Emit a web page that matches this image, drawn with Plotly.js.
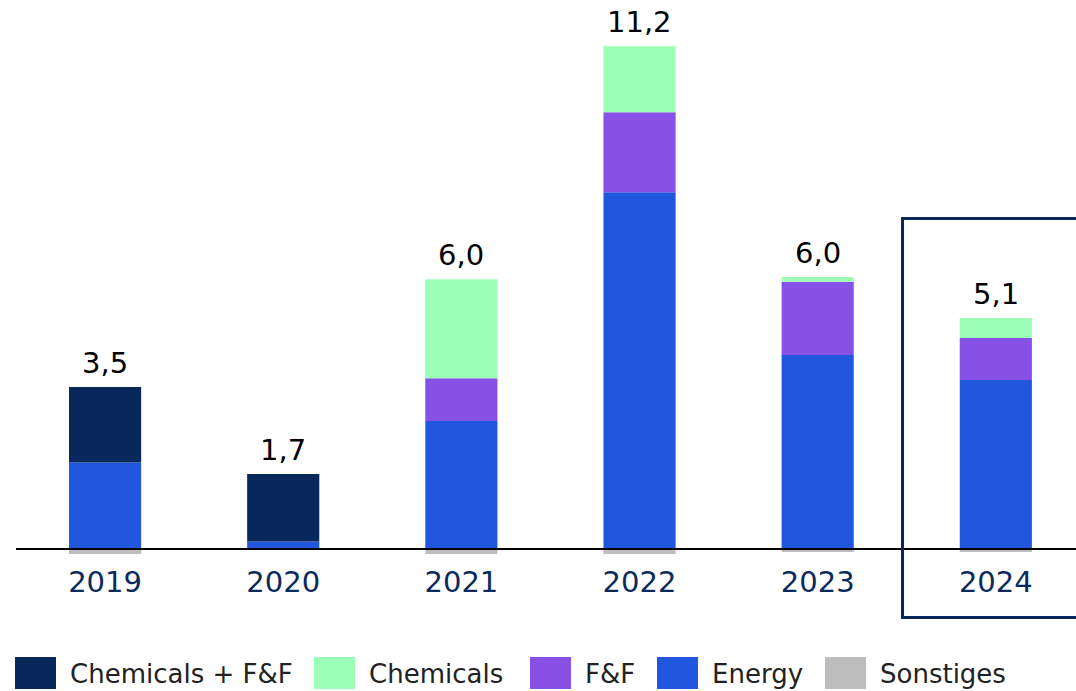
<!DOCTYPE html>
<html>
<head>
<meta charset="utf-8">
<script src="https://cdn.plot.ly/plotly-3.0.1.min.js"></script>
<style>html,body{margin:0;padding:0;background:#fff;}#chart{width:1076px;height:691px;}</style>
</head>
<body>
<div id="chart"></div>
<script>
const years = ['2019', '2020', '2021', '2022', '2023', '2024'];
const chemFF = [1.69, 1.51, 0, 0, 0, 0];
const chemicals = [0, 0, 2.22, 1.48, 0.11, 0.45];
const ff = [0, 0, 0.96, 1.79, 1.64, 0.94];
const energy = [1.94, 0.17, 2.87, 8.00, 4.35, 3.79];
const sonstiges = [-0.11, 0, -0.11, -0.11, -0.07, -0.07];
const totalLabels = ['3,5', '1,7', '6,0', '11,2', '6,0', '5,1'];

const seriesNames = ['Chemicals + F&F', 'Chemicals', 'F&F', 'Energy', 'Sonstiges'];
const seriesColors = ['#08275a', '#9bffb8', '#8751e6', '#2157de', '#bdbdbd'];

const FONT = 'DejaVu Sans, sans-serif';

function bar(name, y, color) {
  return {
    type: 'bar', name: name, x: years, y: y, width: 0.405,
    marker: {color: color, line: {width: 0}},
    showlegend: false, hoverinfo: 'skip'
  };
}
// stacking order: Energy at bottom, then F&F, Chemicals, Chemicals + F&F
const traces = [
  bar('Energy', energy, seriesColors[3]),
  bar('F&F', ff, seriesColors[2]),
  bar('Chemicals', chemicals, seriesColors[1]),
  bar('Chemicals + F&F', chemFF, seriesColors[0]),
  bar('Sonstiges', sonstiges, seriesColors[4])
];

const tops = years.map((yr, i) => energy[i] + ff[i] + chemicals[i] + chemFF[i]);
const annotations = years.map((yr, i) => ({
  x: i, y: tops[i], xref: 'x', yref: 'y', text: totalLabels[i], showarrow: false,
  xanchor: 'center', yanchor: 'bottom', yshift: 5,
  font: {family: FONT, size: 29, color: '#000'}
}));

// custom legend with large swatches
const legendX = [15, 314, 530, 657, 825];
const PL = 16, PW = 1060;
const PT = 10, PH = 550;
const shapes = [];
function px2paperX(px) { return (px - PL) / PW; }
function px2paperY(py) { return (PT + PH - py) / PH; }
seriesNames.forEach((n, i) => {
  shapes.push({
    type: 'rect', xref: 'paper', yref: 'paper',
    x0: px2paperX(legendX[i]), x1: px2paperX(legendX[i] + 41),
    y0: px2paperY(689), y1: px2paperY(657),
    fillcolor: seriesColors[i], line: {width: 0}
  });
  annotations.push({
    xref: 'paper', yref: 'paper', x: px2paperX(legendX[i] + 53), y: px2paperY(674),
    xanchor: 'left', yanchor: 'middle', text: n, showarrow: false,
    font: {family: FONT, size: 26, color: '#222'}
  });
});

// zero line on top of bars
shapes.push({
  type: 'line', xref: 'paper', yref: 'y', x0: 0, x1: 1, y0: 0, y1: 0,
  line: {color: '#000', width: 2}, layer: 'above'
});
// highlight box around 2024
shapes.push({
  type: 'rect', xref: 'paper', yref: 'paper',
  x0: px2paperX(902.5), x1: px2paperX(1090),
  y0: px2paperY(617.5), y1: px2paperY(218.5),
  line: {color: '#08275a', width: 3}, fillcolor: 'rgba(0,0,0,0)', layer: 'above'
});

const layout = {
  width: 1076, height: 691,
  margin: {l: PL, r: 0, t: PT, b: 691 - PT - PH},
  paper_bgcolor: '#fff', plot_bgcolor: '#fff',
  barmode: 'relative', bargap: 0.6,
  showlegend: false,
  xaxis: {
    type: 'category', range: [-0.5, 5.45], showgrid: false, zeroline: false,
    showline: false, ticks: '', ticklabelstandoff: 2,
    tickfont: {family: FONT, size: 29, color: '#0a2a5c'}, fixedrange: true
  },
  yaxis: {
    range: [-0.247, 12.085], showgrid: false, zeroline: false, showline: false,
    showticklabels: false, ticks: '', fixedrange: true
  },
  annotations: annotations,
  shapes: shapes
};

Plotly.newPlot('chart', traces, layout, {displayModeBar: false, staticPlot: true});
</script>
</body>
</html>
